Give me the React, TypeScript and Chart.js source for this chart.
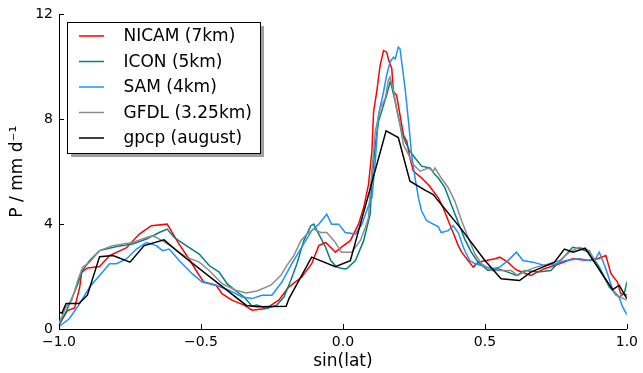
import React, { useEffect, useRef } from "react";
import { Chart, registerables } from "chart.js";

Chart.register(...registerables);

// ---- data ----
const nicamLat = [-1.0, -0.99, -0.97, -0.945, -0.927, -0.92, -0.899, -0.857, -0.822, -0.762, -0.717, -0.675, -0.619, -0.601, -0.577, -0.542, -0.506, -0.489, -0.447, -0.426, -0.391, -0.348, -0.32, -0.271, -0.226, -0.191, -0.145, -0.11, -0.085, -0.061, -0.026, -0.005, 0.026, 0.055, 0.073, 0.09, 0.102, 0.108, 0.119, 0.131, 0.143, 0.154, 0.16, 0.172, 0.178, 0.189, 0.201, 0.213, 0.225, 0.236, 0.248, 0.277, 0.301, 0.336, 0.353, 0.371, 0.388, 0.406, 0.418, 0.441, 0.459, 0.476, 0.504, 0.536, 0.552, 0.581, 0.605, 0.616, 0.662, 0.71, 0.763, 0.809, 0.862, 0.897, 0.926, 0.944, 0.967, 0.978, 1.0];
const nicamP = [0.15, 0.35, 0.7, 0.8, 1.6, 2.17, 2.33, 2.38, 2.8, 3.1, 3.62, 3.94, 4.0, 3.68, 3.24, 2.67, 2.04, 1.79, 1.67, 1.35, 1.1, 0.91, 0.72, 0.78, 1.1, 1.6, 1.98, 2.49, 3.18, 3.3, 2.93, 3.12, 3.37, 4.0, 4.63, 5.51, 6.78, 8.29, 9.05, 10.06, 10.62, 10.56, 10.3, 9.93, 9.05, 8.92, 8.16, 7.41, 7.15, 6.52, 6.02, 5.76, 5.5, 5.0, 4.63, 4.13, 3.68, 3.18, 2.93, 2.61, 2.36, 2.55, 2.61, 2.68, 2.74, 2.55, 2.3, 2.23, 2.04, 2.3, 2.49, 2.68, 2.61, 2.68, 2.8, 2.11, 1.79, 1.35, 1.3];

const iconLat = [-1.0, -0.975, -0.938, -0.917, -0.892, -0.857, -0.797, -0.741, -0.692, -0.647, -0.619, -0.594, -0.552, -0.506, -0.471, -0.436, -0.408, -0.377, -0.348, -0.32, -0.303, -0.268, -0.233, -0.208, -0.184, -0.162, -0.138, -0.113, -0.103, -0.085, -0.061, -0.043, -0.022, 0.002, 0.013, 0.044, 0.073, 0.096, 0.102, 0.114, 0.125, 0.143, 0.154, 0.166, 0.172, 0.184, 0.195, 0.207, 0.219, 0.236, 0.254, 0.277, 0.307, 0.324, 0.336, 0.359, 0.381, 0.406, 0.429, 0.452, 0.476, 0.511, 0.546, 0.581, 0.611, 0.64, 0.687, 0.732, 0.767, 0.809, 0.838, 0.868, 0.903, 0.938, 0.973, 0.991, 1.0];
const iconP = [0.15, 0.65, 1.6, 2.23, 2.61, 2.99, 3.15, 3.24, 3.43, 3.68, 3.81, 3.49, 3.18, 2.86, 2.42, 2.17, 1.73, 1.45, 1.22, 0.87, 0.91, 0.78, 0.91, 1.22, 1.85, 2.49, 3.37, 3.94, 4.0, 3.62, 3.12, 2.61, 2.36, 2.3, 2.3, 2.61, 3.37, 4.38, 5.64, 7.03, 7.91, 8.54, 8.92, 9.42, 9.24, 8.67, 8.1, 7.53, 7.15, 6.78, 6.52, 6.21, 6.14, 5.89, 5.76, 5.39, 4.76, 4.06, 3.43, 2.93, 2.55, 2.23, 2.3, 2.17, 2.04, 2.23, 2.17, 2.23, 2.61, 3.12, 3.05, 2.93, 2.36, 1.6, 1.22, 1.35, 1.8];

const samLat = [-1.0, -0.963, -0.927, -0.892, -0.857, -0.822, -0.797, -0.762, -0.727, -0.692, -0.657, -0.636, -0.612, -0.577, -0.531, -0.496, -0.447, -0.401, -0.355, -0.32, -0.285, -0.25, -0.215, -0.18, -0.145, -0.11, -0.085, -0.057, -0.04, -0.015, 0.008, 0.044, 0.067, 0.096, 0.102, 0.114, 0.125, 0.143, 0.154, 0.166, 0.178, 0.184, 0.195, 0.201, 0.207, 0.219, 0.231, 0.242, 0.254, 0.266, 0.277, 0.295, 0.318, 0.336, 0.346, 0.371, 0.388, 0.406, 0.424, 0.435, 0.447, 0.465, 0.488, 0.523, 0.552, 0.581, 0.611, 0.634, 0.669, 0.71, 0.75, 0.785, 0.833, 0.868, 0.886, 0.903, 0.926, 0.95, 0.973, 0.985, 1.0];
const samP = [0.09, 0.4, 0.97, 1.6, 2.04, 2.49, 2.49, 2.68, 3.05, 3.3, 3.18, 2.99, 3.05, 2.61, 2.11, 1.79, 1.67, 1.48, 1.22, 1.16, 1.29, 1.29, 1.79, 2.49, 3.12, 3.75, 4.0, 4.38, 4.0, 4.0, 3.68, 3.62, 4.0, 4.88, 5.0, 6.4, 8.16, 9.05, 9.68, 10.18, 10.37, 10.3, 10.75, 10.69, 10.18, 9.17, 7.91, 6.65, 5.76, 5.0, 4.5, 4.13, 4.0, 3.9, 3.68, 3.75, 3.94, 3.68, 3.12, 2.86, 2.61, 2.49, 2.42, 2.3, 2.36, 2.61, 2.93, 2.61, 2.55, 2.42, 2.49, 2.61, 2.68, 2.61, 2.61, 2.93, 2.3, 1.5, 1.2, 0.84, 0.55];

const gfdlLat = [-1.0, -0.975, -0.955, -0.934, -0.917, -0.892, -0.857, -0.811, -0.741, -0.692, -0.671, -0.636, -0.601, -0.552, -0.506, -0.471, -0.426, -0.377, -0.341, -0.303, -0.254, -0.219, -0.198, -0.173, -0.148, -0.127, -0.103, -0.078, -0.057, -0.03, -0.005, 0.031, 0.061, 0.079, 0.09, 0.096, 0.114, 0.131, 0.149, 0.16, 0.166, 0.178, 0.189, 0.201, 0.213, 0.231, 0.248, 0.272, 0.301, 0.318, 0.324, 0.346, 0.371, 0.394, 0.418, 0.441, 0.465, 0.488, 0.523, 0.558, 0.593, 0.616, 0.64, 0.68, 0.728, 0.763, 0.798, 0.833, 0.868, 0.891, 0.926, 0.961, 1.0];
const gfdlP = [0.22, 0.84, 1.1, 1.85, 2.36, 2.55, 2.99, 3.18, 3.3, 3.49, 3.56, 3.37, 3.12, 2.74, 2.55, 2.23, 1.73, 1.48, 1.37, 1.45, 1.67, 2.04, 2.42, 2.8, 3.37, 3.62, 3.81, 3.68, 3.68, 3.35, 2.93, 2.93, 3.37, 3.87, 4.25, 5.26, 7.53, 8.41, 8.79, 9.49, 9.61, 9.11, 8.41, 7.79, 7.03, 6.65, 6.27, 6.02, 6.14, 6.02, 6.14, 5.76, 5.39, 4.88, 4.13, 3.49, 2.86, 2.49, 2.23, 2.23, 2.23, 2.04, 2.2, 2.36, 2.49, 2.61, 2.93, 3.12, 2.99, 2.49, 1.85, 1.29, 1.1];

const gpcpLat = [-1.0, -0.99, -0.975, -0.93, -0.9, -0.857, -0.81, -0.75, -0.7, -0.63, -0.575, -0.34, -0.3, -0.2, -0.19, -0.11, -0.027, 0.026, 0.152, 0.195, 0.236, 0.289, 0.318, 0.417, 0.5, 0.557, 0.622, 0.662, 0.745, 0.78, 0.81, 0.853, 0.95, 0.973, 1.0];
const gpcpP = [0.65, 0.6, 0.97, 0.97, 1.29, 2.76, 2.8, 2.55, 3.18, 3.4, 2.89, 0.9, 0.85, 0.87, 1.16, 2.74, 2.38, 2.61, 7.56, 7.3, 5.64, 5.3, 5.13, 3.81, 2.61, 1.92, 1.85, 2.17, 2.55, 3.05, 2.93, 3.08, 1.5, 1.67, 1.16];

const seriesNames = ["NICAM (7km)", "ICON (5km)", "SAM (4km)", "GFDL (3.25km)", "gpcp (august)"];
const seriesColors = ["#ff0000", "#008080", "#1e90ff", "#8c8c8c", "#000000"];
const seriesLat = [nicamLat, iconLat, samLat, gfdlLat, gpcpLat];
const seriesP = [nicamP, iconP, samP, gfdlP, gpcpP];

const xTicks = [-1.0, -0.5, 0.0, 0.5, 1.0];
const yTicks = [0, 4, 8, 12];
const xTitle = "sin(lat)";
const yTitle = "P / mm d\u207B\u00B9";

const FONT = "'DejaVu Sans', 'Liberation Sans', sans-serif";

const innerTicks = {
  id: "innerTicks",
  afterDraw(chart: any) {
    const ctx = chart.ctx;
    const xs = chart.scales.x;
    const ys = chart.scales.y;
    const ca = chart.chartArea;
    ctx.save();
    ctx.strokeStyle = "#000";
    ctx.lineWidth = 1;
    xs.ticks.forEach((t: any) => {
      const px = Math.round(xs.getPixelForValue(t.value)) + 0.5;
      ctx.beginPath();
      ctx.moveTo(px, ca.bottom);
      ctx.lineTo(px, ca.bottom - 5);
      ctx.stroke();
    });
    ys.ticks.forEach((t: any) => {
      const py = Math.round(ys.getPixelForValue(t.value)) + 0.5;
      ctx.beginPath();
      ctx.moveTo(ca.left, py);
      ctx.lineTo(ca.left + 5, py);
      ctx.stroke();
    });
    ctx.restore();
  },
};

const boxLegend = {
  id: "boxLegend",
  afterDraw(chart: any) {
    const ctx = chart.ctx;
    const ca = chart.chartArea;
    const x0 = Math.round(ca.left + 8) + 0.5;
    const y0 = Math.round(ca.top + 8) + 0.5;
    const w = 193;
    const h = 131;
    ctx.save();
    ctx.fillStyle = "#a0a0a0";
    ctx.fillRect(x0 + 3.5, y0 + 3.5, w, h);
    ctx.fillStyle = "#ffffff";
    ctx.fillRect(x0, y0, w, h);
    ctx.strokeStyle = "#000";
    ctx.lineWidth = 1;
    ctx.strokeRect(x0, y0, w, h);
    ctx.font = "17px " + FONT;
    ctx.textBaseline = "middle";
    ctx.textAlign = "left";
    chart.data.datasets.forEach((ds: any, i: number) => {
      const cy = y0 + 13.5 + i * 25.5;
      ctx.strokeStyle = ds.borderColor;
      ctx.lineWidth = 1.5;
      ctx.beginPath();
      ctx.moveTo(x0 + 11.5, cy);
      ctx.lineTo(x0 + 36.5, cy);
      ctx.stroke();
      ctx.fillStyle = "#000";
      ctx.fillText(ds.label, x0 + 56, cy + 1);
    });
    ctx.restore();
  },
};

export default function App() {
  const ref = useRef<HTMLCanvasElement | null>(null);

  useEffect(() => {
    if (!ref.current) return;
    const datasets = seriesNames.map((name, i) => ({
      label: name,
      data: seriesLat[i].map((lat, j) => ({ x: lat, y: seriesP[i][j] })),
      borderColor: seriesColors[i],
      backgroundColor: seriesColors[i],
      borderWidth: 1.5,
      pointRadius: 0,
      tension: 0,
      fill: false,
      order: seriesNames.length - 1 - i,
    }));
    const chart = new Chart(ref.current, {
      type: "line",
      data: { datasets },
      options: {
        animation: false,
        responsive: false,
        devicePixelRatio: 1,
        parsing: false,
        layout: { padding: { top: 12, right: 14, left: 0, bottom: 0 } },
        plugins: {
          legend: { display: false },
          tooltip: { enabled: false },
        },
        scales: {
          x: {
            type: "linear",
            min: -1,
            max: 1,
            grid: { display: false, drawTicks: false },
            border: { display: true, color: "#000", width: 1 },
            afterBuildTicks: (s: any) => {
              s.ticks = xTicks.map((v) => ({ value: v }));
            },
            afterFit: (s: any) => {
              s.height = 44;
            },
            ticks: {
              color: "#000",
              font: { family: FONT, size: 14 },
              padding: 5,
              maxRotation: 0,
              callback: (v: any) => Number(v).toFixed(1).replace("-", "\u2212"),
            },
            title: {
              display: true,
              text: xTitle,
              color: "#000",
              font: { family: FONT, size: 17 },
              padding: { top: 0, bottom: 1 },
            },
          },
          y: {
            type: "linear",
            min: 0,
            max: 12,
            grid: { display: false, drawTicks: false },
            border: { display: true, color: "#000", width: 1 },
            afterBuildTicks: (s: any) => {
              s.ticks = yTicks.map((v) => ({ value: v }));
            },
            afterFit: (s: any) => {
              s.width = 59;
            },
            ticks: {
              color: "#000",
              font: { family: FONT, size: 14 },
              padding: 6,
              callback: (v: any) => String(v),
            },
            title: {
              display: true,
              text: yTitle,
              color: "#000",
              font: { family: FONT, size: 17 },
              padding: { top: 7, bottom: 0 },
            },
          },
        },
      },
      plugins: [innerTicks, boxLegend],
    });
    return () => chart.destroy();
  }, []);

  return (
    <div style={{ position: "fixed", left: 0, top: 0, width: 643, height: 373, background: "#fff" }}>
      <canvas ref={ref} width={643} height={373} style={{ display: "block" }} />
    </div>
  );
}
